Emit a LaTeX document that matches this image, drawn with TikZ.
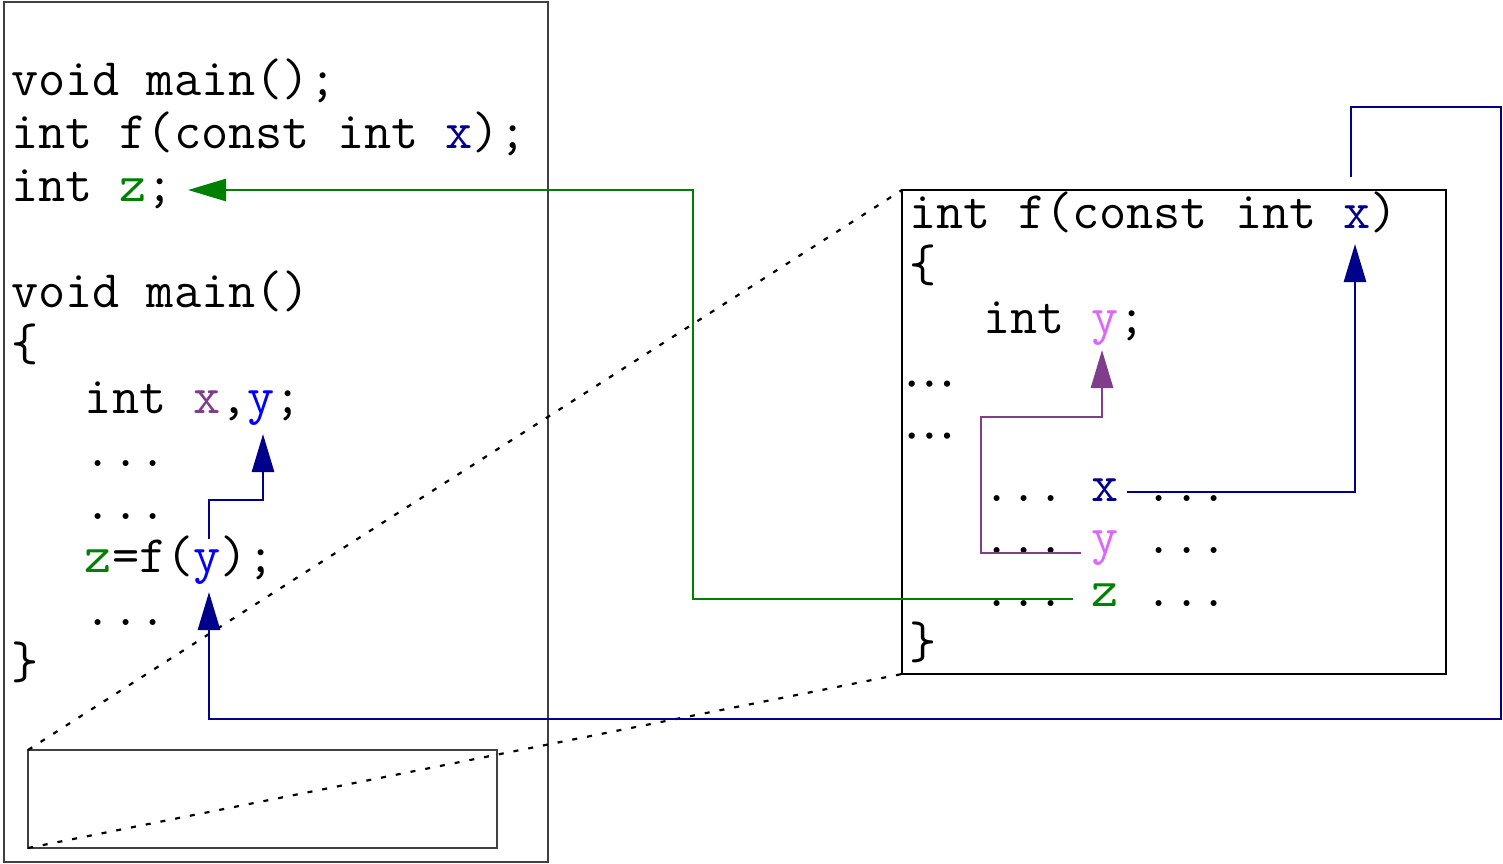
\documentclass[tikz,border=0pt]{standalone}
\usepackage{fontspec}
\newfontfamily\dotsfont{Liberation Serif}
\usepackage{xcolor}
\usetikzlibrary{arrows.meta}
\usetikzlibrary{positioning}

\definecolor{varnavy}{HTML}{00008B}
\definecolor{vargreen}{HTML}{008000}
\definecolor{varpurple}{HTML}{7F3D8C}
\definecolor{varblue}{HTML}{0000FF}
\definecolor{varpink}{HTML}{DD66FF}
\definecolor{framegray}{HTML}{404040}
\newcommand{\codefont}{\ttfamily\frenchspacing\fontsize{26.36pt}{30pt}\selectfont}

\begin{document}
\begin{tikzpicture}[x=0.5pt,y=-0.5pt,
   code/.style={font=\codefont,anchor=base west,inner sep=0pt},
   frame/.style={draw,inner sep=0pt,outer sep=0pt},
   link/.style={line width=1.4pt,-{Triangle[length=19pt,width=11pt]}},
   zoomline/.style={line width=1.1pt,dash pattern=on 2.5pt off 5pt}]
   \useasboundingbox (0,0) rectangle (1503,863);
   % frames
   \node[frame,draw=framegray,line width=0.65pt,minimum width=272pt,minimum height=430pt] (mainbox) at (276,432) {};
   \node[frame,line width=0.55pt,minimum width=272pt,minimum height=242pt] (fbox) at (1174,432) {};
   \node[frame,draw=framegray,line width=0.65pt,minimum width=234.5pt,minimum height=49pt] (zoombox) at (262.5,799) {};
   % left listing
   \node[code] (l1) at (10.8,95) {void main();};
   \node[code] (l2) at (10.8,148) {int f(const int \textcolor{varnavy}{x});};
   \node[code] (l3) at (10.8,201) {int \textcolor{vargreen}{z};};
   \node[code] (l4) at (10.8,307) {void main()};
   \node[code] (l5) at (10.8,360) {\{};
   \node[code] (l6) at (84.5,413) {int \textcolor{varpurple}{x},\textcolor{varblue}{y};};
   \node[code] (l7) at (84.5,466) {...};
   \node[code] (l8) at (84.5,519) {...};
   \node[code] (l9) at (84.5,572) {\textcolor{vargreen}{z}=f(\textcolor{varblue}{y});};
   \node[code] (l10) at (84.5,625) {...};
   \node[code] (l11) at (10.8,678) {\}};
   % right listing
   \node[code] (r1) at (909,228) {int f(const int \textcolor{varnavy}{x})};
   \node[code] (r2) at (909,281) {\{};
   \node[code] (r3) at (982.6,333) {int \textcolor{varpink}{y};};
   \node[code] (r4) at (903,386) {\dotsfont …};
   \node[code] (r5) at (903,438) {\dotsfont …};
   \node[code] (r6) at (982.6,501) {... \textcolor{varnavy}{x} ...};
   \node[code] (r7) at (982.6,553.5) {... \textcolor{varpink}{y} ...};
   \node[code] (r8) at (982.6,606) {... \textcolor{vargreen}{z} ...};
   \node[code] (r9) at (909,658) {\}};
   % zoom lines
   \draw[zoomline] (zoombox.north west) -- (fbox.north west);
   \draw[zoomline] (zoombox.south west) -- (fbox.south west);
   % arrow ends
   \coordinate (zdecl) at (188,190);
   \coordinate (zuse) at (1073,599);
   \coordinate (fret) at (1351,177);
   \coordinate (yarg) at (209,592);
   \coordinate (yargtop) at (209,539);
   \coordinate (ydecl) at (263,434);
   \coordinate (xuse) at (1127,492);
   \coordinate (xpar) at (1355,244);
   \coordinate (yuse) at (1081,553);
   \coordinate (ylocal) at (1102,350);
   % arrows
   \draw[link,vargreen] (zuse) -- ++(-380,0) |- (zdecl);
   \draw[link,varnavy] (fret) -- ++(0,-70) -| ++(150,612) -| (yarg);
   \draw[link,varnavy] (yargtop) -- ++(0,-39) -| (ydecl);
   \draw[link,varnavy] (xuse) -| (xpar);
   \draw[link,varpurple] (yuse) -| ++(-100,-136) -| (ylocal);
\end{tikzpicture}
\end{document}
